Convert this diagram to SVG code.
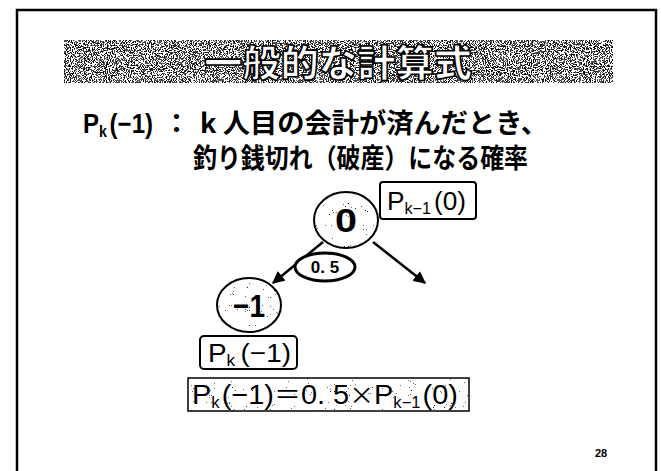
<svg xmlns="http://www.w3.org/2000/svg" width="661" height="471" viewBox="0 0 661 471">
<style>
.cj{font-family:"Noto Sans CJK JP","Noto Sans",sans-serif;font-weight:bold;fill:#000;}
.lt{font-family:"Liberation Sans","DejaVu Sans",sans-serif;font-weight:bold;fill:#000;}
.box{fill:#fff;stroke:#000;stroke-width:2;}
.edge{stroke:#000;stroke-width:2.5;fill:none;marker-end:url(#ah);}
</style>
<defs>
<filter id="dark" x="0" y="0" width="100%" height="100%" color-interpolation-filters="sRGB">
<feTurbulence type="fractalNoise" baseFrequency="0.95" numOctaves="2" seed="4" result="n"/>
<feColorMatrix in="n" type="matrix" values="0 0 0 0 0 0 0 0 0 0 0 0 0 0 0 1 0 0 0 0" result="a"/>
<feComponentTransfer in="a" result="d"><feFuncA type="discrete" tableValues="0 0 0 0 0 0.7 1 1 1 1"/></feComponentTransfer>
<feFlood flood-color="#fff" result="w"/>
<feMerge result="m"><feMergeNode in="w"/><feMergeNode in="d"/></feMerge>
<feComposite in="m" in2="SourceAlpha" operator="in"/>
</filter>
<filter id="light" x="0" y="0" width="100%" height="100%" color-interpolation-filters="sRGB">
<feTurbulence type="fractalNoise" baseFrequency="0.95" numOctaves="2" seed="7" result="n"/>
<feColorMatrix in="n" type="matrix" values="0 0 0 0 0 0 0 0 0 0 0 0 0 0 0 1 0 0 0 0" result="a"/>
<feComponentTransfer in="a" result="d"><feFuncA type="discrete" tableValues="0 0 0 0 0 0 0 0 0 0 0 0 0.6 0.9 1 1"/></feComponentTransfer>
<feFlood flood-color="#fff" result="w"/>
<feMerge result="m"><feMergeNode in="w"/><feMergeNode in="d"/></feMerge>
<feComposite in="m" in2="SourceAlpha" operator="in"/>
</filter>
<marker id="ah" viewBox="0 0 10 10" refX="9" refY="5" markerWidth="5" markerHeight="5" orient="auto" markerUnits="strokeWidth">
<path d="M0,0 L10,5 L0,10 z" fill="#000"/>
</marker>
</defs>
<rect width="661" height="471" fill="#fff"/>
<path d="M17,471 V10 H656 V471" fill="none" stroke="#000" stroke-width="2.5"/>

<g id="title">
<rect x="64" y="40" width="549" height="43" fill="#888" filter="url(#dark)"/>
<text class="cj" x="338" y="77" font-size="37" text-anchor="middle" textLength="268" lengthAdjust="spacingAndGlyphs" style="fill:#fff;stroke:#000;stroke-width:1.6;font-weight:900">一般的な計算式</text>
</g>

<g id="definition">
<text class="lt" x="83" y="133" font-size="27" textLength="70" lengthAdjust="spacingAndGlyphs">P<tspan font-size="16" dy="4">k</tspan><tspan dy="-4" dx="3">(−1)</tspan></text>
<text class="cj" x="163" y="133" font-size="27">：</text>
<text class="cj" x="200" y="133" font-size="27" textLength="348" lengthAdjust="spacingAndGlyphs">k 人目の会計が済んだとき、</text>
<text class="cj" x="193" y="168" font-size="27" textLength="335" lengthAdjust="spacingAndGlyphs">釣り銭切れ（破産）になる確率</text>
</g>

<g id="connectors">
<line class="edge" x1="323" y1="242" x2="273" y2="283"/>
<line class="edge" x1="373" y1="242" x2="425" y2="283"/>
</g>

<g id="node0">
<ellipse cx="346" cy="220" rx="32" ry="28" fill="#ccc" filter="url(#light)"/>
<ellipse cx="346" cy="220" rx="32" ry="28" fill="none" stroke="#000" stroke-width="2"/>
<text class="lt" x="346" y="232" font-size="34" text-anchor="middle" textLength="22" lengthAdjust="spacingAndGlyphs" style="font-weight:900">0</text>
</g>

<g id="label-p0">
<rect class="box" x="380" y="182" width="96" height="37" rx="3"/>
<text class="lt" x="387" y="210" font-size="26" textLength="79" lengthAdjust="spacingAndGlyphs" style="font-weight:normal">P<tspan font-size="16" dy="4">k−1</tspan><tspan dy="-4" dx="3">(0)</tspan></text>
</g>

<g id="prob">
<ellipse cx="325" cy="267" rx="30" ry="14" fill="#fff" stroke="#000" stroke-width="3"/>
<text class="lt" x="325" y="273" font-size="17" text-anchor="middle">0. 5</text>
</g>

<g id="node-1">
<ellipse cx="249" cy="305" rx="32" ry="27" fill="#ccc" filter="url(#light)"/>
<ellipse cx="249" cy="305" rx="32" ry="27" fill="none" stroke="#000" stroke-width="2"/>
<text class="lt" x="249" y="317" font-size="32" text-anchor="middle" textLength="32" lengthAdjust="spacingAndGlyphs" style="font-weight:900">−1</text>
</g>

<g id="label-p1">
<rect class="box" x="200" y="336" width="97" height="33" rx="4"/>
<text class="lt" x="208" y="362" font-size="26" textLength="83" lengthAdjust="spacingAndGlyphs" style="font-weight:normal">P<tspan font-size="16" dy="4">k</tspan><tspan dy="-4" dx="5">(−1)</tspan></text>
</g>

<g id="formula">
<rect x="188" y="378" width="281" height="33" fill="#ccc" filter="url(#light)"/>
<rect x="188" y="378" width="281" height="33" fill="none" stroke="#000" stroke-width="1.5"/>
<text class="lt" x="192" y="404" font-size="28" textLength="266" lengthAdjust="spacingAndGlyphs" style="font-weight:normal">P<tspan font-size="16" dy="4">k</tspan><tspan dy="-4" dx="2">(−1)</tspan><tspan font-family="Noto Sans CJK JP, sans-serif" font-size="26">＝</tspan><tspan>0. 5</tspan><tspan font-family="Noto Sans CJK JP, sans-serif" font-size="24">×</tspan><tspan>P</tspan><tspan font-size="16" dy="4">k−1</tspan><tspan dy="-4" dx="2">(0)</tspan></text>
</g>

<g id="page">
<text class="lt" x="601" y="457" font-size="11" text-anchor="middle">28</text>
</g>
</svg>
